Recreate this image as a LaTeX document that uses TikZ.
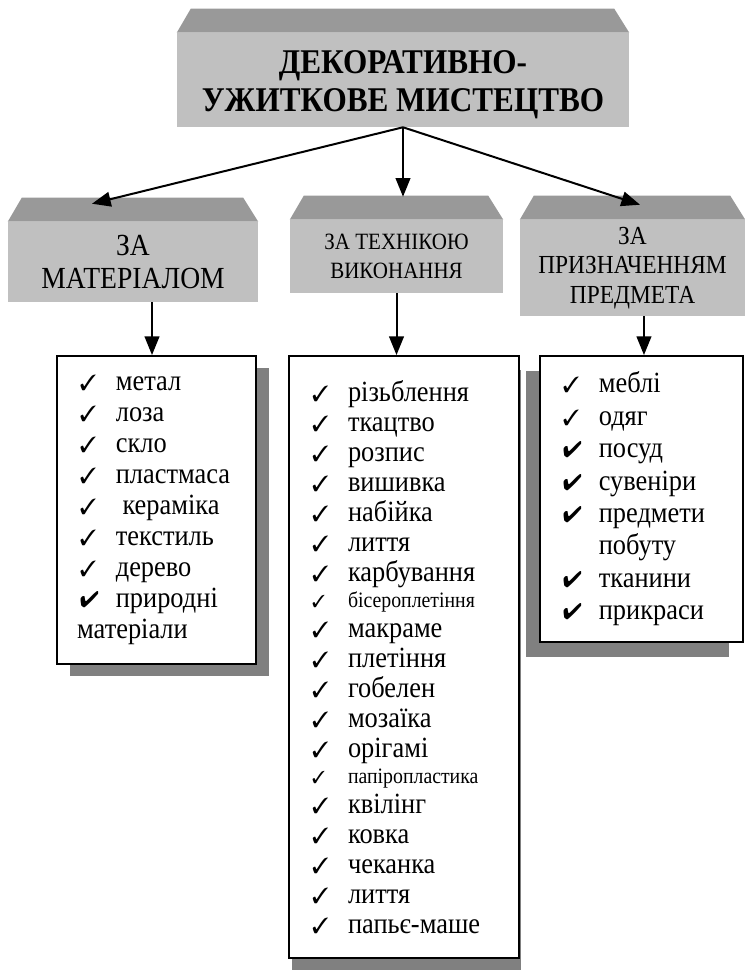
\documentclass[tikz,border=0pt]{standalone}
\usepackage{fontspec}
\setmainfont{Liberation Serif}[FakeStretch=0.9]
\usepackage{pifont}
\usetikzlibrary{arrows.meta,positioning,shadows}
\definecolor{BevelTop}{RGB}{153,153,153}
\definecolor{BevelFace}{RGB}{192,192,192}
\definecolor{ShadowGray}{RGB}{128,128,128}
\newcommand{\chk}{\makebox[27pt][l]{\fontsize{16.5}{16}\selectfont\ding{51}}}
\newcommand{\bchk}{\makebox[27pt][l]{\fontsize{17}{17}\selectfont\ding{52}}}
\newcommand{\schk}{\makebox[27pt][l]{\fontsize{13}{13}\selectfont\ding{51}}}

\begin{document}
\begin{tikzpicture}[x=0.75pt,y=-0.75pt,
    facebox/.style={fill=BevelFace, inner sep=0pt, align=center},
    bevtop/.style={fill=BevelTop},
    listbox/.style={draw, line width=1.4pt, fill=white, inner xsep=17pt,
      inner ysep=0pt, align=left},
    arr/.style={line width=1.5pt, -{Triangle[length=14pt,width=11pt]}}]
  \useasboundingbox (0,0) rectangle (745,970);

  % heading boxes
  \node[facebox, minimum width=339pt, minimum height=70.5pt,
    font=\fontsize{26}{28.5}\selectfont\bfseries] (top) at (403,80)
    {\rule{0pt}{25pt}ДЕКОРАТИВНО-\\УЖИТКОВЕ МИСТЕЦТВО};
  \node[facebox, minimum width=187.5pt, minimum height=60pt,
    font=\fontsize{23}{24.5}\selectfont] (mat) at (133,262)
    {ЗА\\МАТЕРІАЛОМ};
  \node[facebox, minimum width=159.75pt, minimum height=54.75pt,
    font=\fontsize{17.5}{21.5}\selectfont] (tech) at (396.5,256.5)
    {ЗА ТЕХНІКОЮ\\ВИКОНАННЯ};
  \node[facebox, minimum width=168.75pt, minimum height=72pt,
    font=\fontsize{19.5}{22}\selectfont] (purp) at (632.5,268)
    {ЗА\\ПРИЗНАЧЕННЯМ\\ПРЕДМЕТА};
  \foreach \n in {top,mat,tech,purp}
    \fill[bevtop] (\n.north west) -- ++(14,-24)
      -- ([shift={(-15,-24)}]\n.north east) -- (\n.north east) -- cycle;

  % lists
  \node[listbox, text width=115pt, minimum height=231pt,
    general shadow={fill=ShadowGray, shadow xshift=9.75pt, shadow yshift=-9pt},
    font=\fontsize{22}{23.25}\selectfont] (matlist) at (156.5,510)
    {\chk метал\\
     \chk лоза\\
     \chk скло\\
     \chk пластмаса\\
     \chk\hspace{5pt}кераміка\\
     \chk текстиль\\
     \chk дерево\\
     \bchk природні\\
     \hspace{-2pt}матеріали};
  \node[listbox, text width=138pt, minimum height=451.5pt,
    general shadow={fill=ShadowGray, shadow xshift=2pt, shadow yshift=-10.5pt},
    font=\fontsize{22}{22.5}\selectfont] (techlist) at (404,657)
    {\chk різьблення\\
     \chk ткацтво\\
     \chk розпис\\
     \chk вишивка\\
     \chk набійка\\
     \chk лиття\\
     \chk карбування\\[-3pt]
     \schk{\fontsize{16.5}{18}\selectfont бісероплетіння}\\
     \chk макраме\\
     \chk плетіння\\
     \chk гобелен\\
     \chk мозаїка\\
     \chk орігамі\\[-3pt]
     \schk{\fontsize{16.5}{18}\selectfont папіропластика}\\
     \chk квілінг\\
     \chk ковка\\
     \chk чеканка\\
     \chk лиття\\
     \chk папьє-маше};
  \node[listbox, text width=118pt, minimum height=214.5pt,
    general shadow={fill=ShadowGray, shadow xshift=-10.5pt, shadow yshift=-11.25pt},
    font=\fontsize{22}{24.3}\selectfont] (purplist) at (641.5,499)
    {\chk меблі\\
     \chk одяг\\
     \bchk посуд\\
     \bchk сувеніри\\
     \bchk предмети\\
     \hspace{27pt}побуту\\
     \bchk тканини\\
     \bchk прикраси};

  % connectors
  \draw[arr] (top.south) -- ([shift={(-41,-18)}]mat.north);
  \draw[arr] (top.south) -- ([shift={(6.5,-23)}]tech.north);
  \draw[arr] (top.south) -- ([shift={(7.5,-15)}]purp.north);
  \draw[arr] ([xshift=14.25pt]mat.south) -- ([xshift=14.25pt]mat.south |- matlist.north);
  \draw[arr] (tech.south) -- (tech.south |- techlist.north);
  \draw[arr] ([xshift=8.6pt]purp.south) -- ([xshift=8.6pt]purp.south |- purplist.north);
\end{tikzpicture}
\end{document}
